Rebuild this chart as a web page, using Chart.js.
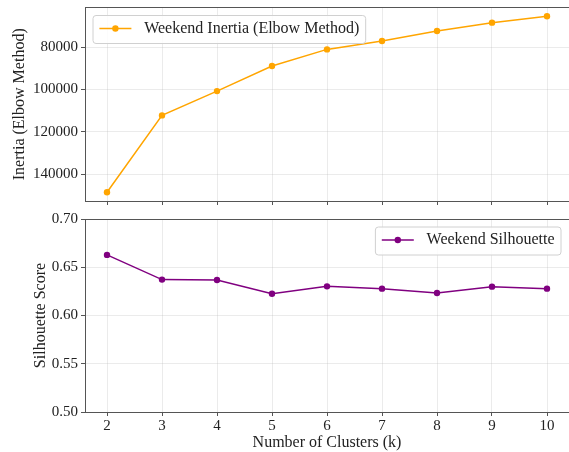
<!DOCTYPE html>
<html><head><meta charset="utf-8">
<script src="https://cdn.jsdelivr.net/npm/chart.js@4.4.0/dist/chart.umd.min.js"></script>
<style>
html,body{margin:0;padding:0;background:#fff;}
#wrap{position:relative;width:569px;height:452px;overflow:hidden;background:#fff;}
canvas{position:absolute;left:0;}
</style></head><body>
<div id="wrap">
<canvas id="c1" width="569" height="210" style="top:0px"></canvas>
<canvas id="c2" width="569" height="242" style="top:210px"></canvas>
</div>
<script>
// ---- data ----
const clusterCounts = [2, 3, 4, 5, 6, 7, 8, 9, 10];
const inertiaValues = [148400, 112200, 100750, 88950, 81100, 77150, 72450, 68500, 65500];
const silhouetteValues = [0.6628, 0.6372, 0.6368, 0.6226, 0.6302, 0.6278, 0.6233, 0.6299, 0.6278];
const inertiaTicks = [80000, 100000, 120000, 140000];
const silhouetteTicks = [0.50, 0.55, 0.60, 0.65, 0.70];
const inertiaLabel = 'Weekend Inertia (Elbow Method)';
const silhouetteLabel = 'Weekend Silhouette';
const xTitle = 'Number of Clusters (k)';
const inertiaTitle = 'Inertia (Elbow Method)';
const silhouetteTitle = 'Silhouette Score';

// ---- style ----
const FAMILY = '"Liberation Serif", "Times New Roman", serif';
const TEXT = '#222222';
const SPINE = '#555555';
const GRID = 'rgba(176,176,176,0.32)';
Chart.defaults.font.family = FAMILY;
Chart.defaults.color = TEXT;

function xRange(){
  const lo = Math.min(...clusterCounts), hi = Math.max(...clusterCounts);
  const m = (hi - lo) * 0.05;
  return [lo - m, hi + m];
}
function yRange(vals){
  const lo = Math.min(...vals), hi = Math.max(...vals);
  const m = (hi - lo) * 0.05;
  return [lo - m, hi + m];
}
const [XMIN, XMAX] = xRange();

function noPad(s){ s.paddingTop = 0; s.paddingBottom = 0; s.paddingLeft = 0; s.paddingRight = 0; }

const boxLegend = {
  id: 'boxLegend',
  afterDraw(chart, args, opts){
    const ctx = chart.ctx, area = chart.chartArea, fs = opts.fontSize;
    const ds = chart.data.datasets[0];
    ctx.save();
    ctx.font = fs + 'px ' + FAMILY;
    const tw = ctx.measureText(ds.label).width;
    const pad = 0.4 * fs, hl = 2 * fs, htp = 0.8 * fs, axpad = 0.5 * fs;
    const w = pad + hl + htp + tw + pad, h = opts.boxHeight;
    const x = opts.corner === 'left' ? area.left + axpad : area.right - axpad - w;
    const y = area.top + axpad;
    const r = 3;
    ctx.beginPath();
    ctx.moveTo(x + r, y);
    ctx.lineTo(x + w - r, y); ctx.arcTo(x + w, y, x + w, y + r, r);
    ctx.lineTo(x + w, y + h - r); ctx.arcTo(x + w, y + h, x + w - r, y + h, r);
    ctx.lineTo(x + r, y + h); ctx.arcTo(x, y + h, x, y + h - r, r);
    ctx.lineTo(x, y + r); ctx.arcTo(x, y, x + r, y, r);
    ctx.closePath();
    ctx.fillStyle = 'rgba(255,255,255,0.85)';
    ctx.fill();
    ctx.strokeStyle = '#d0d0d0';
    ctx.lineWidth = 1;
    ctx.stroke();
    const cy = y + h / 2 - 1;
    ctx.beginPath();
    ctx.moveTo(x + pad, cy); ctx.lineTo(x + pad + hl, cy);
    ctx.strokeStyle = ds.borderColor; ctx.lineWidth = ds.borderWidth;
    ctx.stroke();
    ctx.beginPath();
    ctx.arc(x + pad + hl / 2, cy, ds.pointRadius, 0, Math.PI * 2);
    ctx.fillStyle = ds.pointBackgroundColor; ctx.fill();
    ctx.fillStyle = TEXT;
    ctx.textBaseline = 'middle';
    ctx.textAlign = 'left';
    ctx.fillText(ds.label, x + pad + hl + htp, cy);
    ctx.restore();
  }
};

function makeChart(canvasId, cfg){
  const pts = clusterCounts.map((k, i) => ({x: k, y: cfg.values[i]}));
  return new Chart(document.getElementById(canvasId), {
    type: 'line',
    data: { datasets: [{
      label: cfg.label,
      data: pts,
      borderColor: cfg.color,
      backgroundColor: cfg.color,
      pointBackgroundColor: cfg.color,
      pointBorderColor: cfg.color,
      pointBorderWidth: 0,
      pointRadius: 3.2,
      pointHoverRadius: 3.2,
      borderWidth: 1.5,
      tension: 0,
      xAxisID: 'x', yAxisID: 'y'
    }]},
    options: {
      responsive: false, animation: false, devicePixelRatio: 1,
      layout: { autoPadding: false, padding: { top: cfg.padTop, left: 0, right: 0, bottom: 0 } },
      plugins: {
        legend: { display: false }, tooltip: { enabled: false },
        boxLegend: { fontSize: 16, boxHeight: 28, corner: cfg.corner }
      },
      scales: {
        x: {
          type: 'linear', position: 'bottom', min: XMIN, max: XMAX,
          afterBuildTicks: s => { s.ticks = clusterCounts.map(v => ({value: v})); },
          afterFit: s => { s.height = cfg.xHeight; noPad(s); },
          ticks: { display: cfg.showX, padding: 1, color: TEXT, font: { size: 15 }, callback: v => String(v) },
          grid: { color: GRID, lineWidth: 0.8, drawTicks: true, tickLength: 4, tickColor: SPINE, tickWidth: 1 },
          border: { display: true, color: SPINE, width: 1 },
          title: { display: cfg.showX, text: xTitle, color: TEXT, font: { size: 16, lineHeight: 1.1 }, padding: { top: 0, bottom: 0 } }
        },
        x2: {
          type: 'linear', position: 'top', min: XMIN, max: XMAX,
          afterFit: s => { s.height = 0; noPad(s); },
          ticks: { display: false },
          grid: { display: false, drawTicks: false },
          border: { display: true, color: SPINE, width: 1 }
        },
        y: {
          type: 'linear', position: 'left', reverse: cfg.reverse, min: cfg.min, max: cfg.max,
          afterBuildTicks: s => { s.ticks = cfg.ticks.map(v => ({value: v})); },
          afterFit: s => { s.width = 85; noPad(s); },
          ticks: { padding: 3, color: TEXT, font: { size: 15 }, callback: cfg.fmt },
          grid: { color: GRID, lineWidth: 0.8, drawTicks: true, tickLength: 4, tickColor: SPINE, tickWidth: 1 },
          border: { display: true, color: SPINE, width: 1 },
          title: { display: true, text: cfg.title, color: TEXT, font: { size: 16, lineHeight: 1.2 }, padding: { top: cfg.titlePad, bottom: 0 } }
        },
        y2: {
          type: 'linear', position: 'right',
          afterFit: s => { s.width = 0; noPad(s); },
          ticks: { display: false },
          grid: { display: false, drawTicks: false },
          border: { display: true, color: SPINE, width: 1 }
        }
      }
    },
    plugins: [boxLegend]
  });
}

const [iMin, iMax] = yRange(inertiaValues);
makeChart('c1', {
  values: inertiaValues, label: inertiaLabel, color: '#FFA500',
  padTop: 7.5, xHeight: 9, showX: false, corner: 'left',
  reverse: true, min: iMin, max: iMax, ticks: inertiaTicks,
  fmt: v => String(v), title: inertiaTitle, titlePad: 10.5
});
makeChart('c2', {
  values: silhouetteValues, label: silhouetteLabel, color: '#800080',
  padTop: 9, xHeight: 40, showX: true, corner: 'right',
  reverse: false, min: silhouetteTicks[0], max: silhouetteTicks[silhouetteTicks.length - 1], ticks: silhouetteTicks,
  fmt: v => Number(v).toFixed(2), title: silhouetteTitle, titlePad: 31
});
</script>
</body></html>
